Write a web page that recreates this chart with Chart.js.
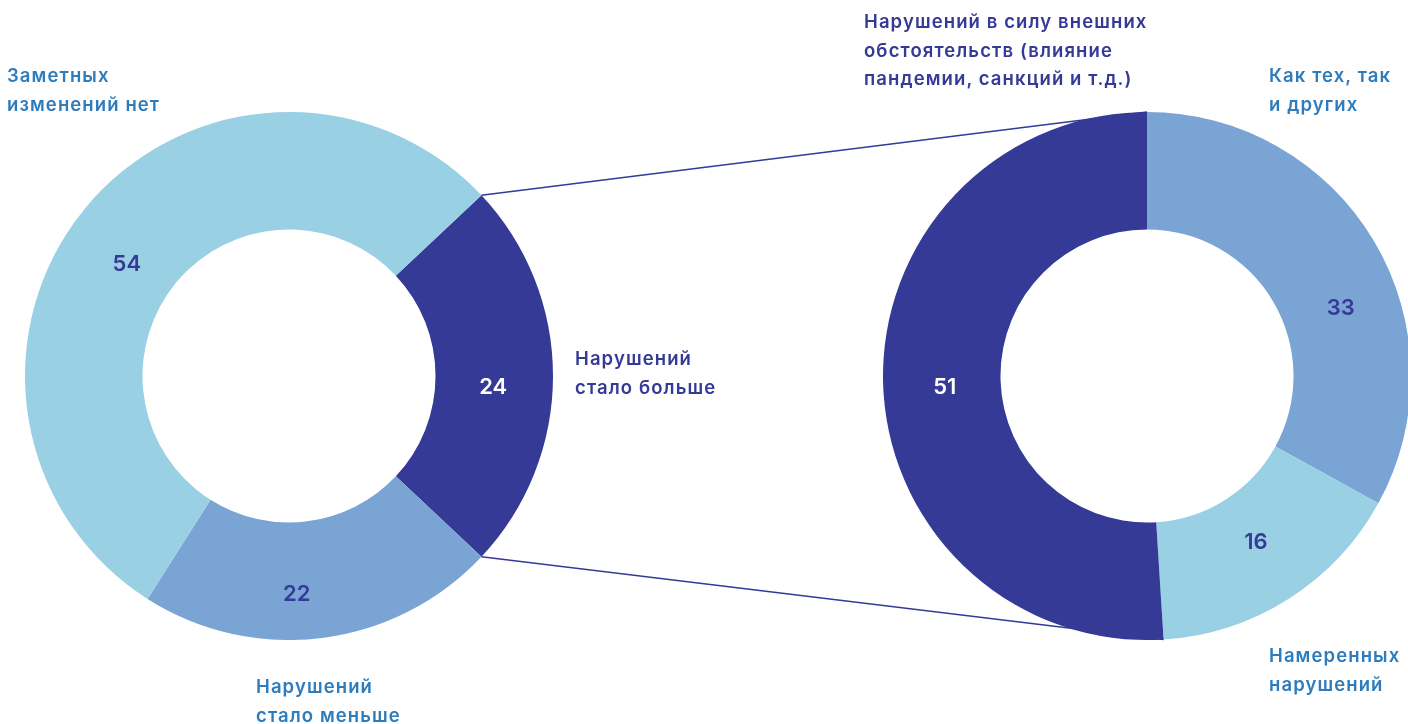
<!DOCTYPE html>
<html>
<head>
<meta charset="utf-8">
<script src="https://cdn.jsdelivr.net/npm/chart.js@4.4.0/dist/chart.umd.min.js"></script>
<style>
  html, body { margin: 0; padding: 0; background: #fff; overflow: hidden; }
  #wrap { position: relative; width: 1408px; height: 724px; }
  #wrap canvas { position: absolute; }
  #links { left: 0; top: 0; z-index: 0; }
  #leftChart { left: 25px; top: 112px; z-index: 1; }
  #rightChart { left: 883px; top: 112px; z-index: 1; }
  .cap {
    position: absolute; font-family: Inter, sans-serif; font-weight: 600;
    font-size: 18.5px; line-height: 28.5px; letter-spacing: 1.1px;
    white-space: nowrap; z-index: 2;
  }
  .navy { color: #343a96; }
  .blue { color: #2f7cbd; }
</style>
</head>
<body>
<div id="wrap">
  <canvas id="links" width="1408" height="724"></canvas>
  <canvas id="leftChart" width="528" height="528"></canvas>
  <canvas id="rightChart" width="528" height="528"></canvas>
</div>
<script>
// overall answers
var leftLabels = ["Нарушений стало больше", "Нарушений стало меньше", "Заметных изменений нет"];
var leftValues = [24, 22, 54];

// breakdown of "стало больше"
var rightLabels = ["Как тех, так и других", "Намеренных нарушений", "Нарушений в силу внешних обстоятельств (влияние пандемии, санкций и т.д.)"];
var rightValues = [33, 16, 51];

var NAVY = "#343a96", MID = "#79a4d4", LIGHT = "#9ad0e3";

// caption blocks: [lines, class, left, top]
var captions = [
    [["Заметных", "изменений нет"], "blue", 7, 61],
    [["Нарушений", "стало больше"], "navy", 575, 344],
    [["Нарушений", "стало меньше"], "blue", 256, 672],
    [["Нарушений в силу внешних", "обстоятельств (влияние", "пандемии, санкций и т.д.)"], "navy", 864, 7],
    [["Как тех, так", "и других"], "blue", 1269, 61],
    [["Намеренных", "нарушений"], "blue", 1269, 641]
];

var wrap = document.getElementById("wrap");
captions.forEach(function(c){
    var d = document.createElement("div");
    d.className = "cap " + c[1];
    d.style.left = c[2] + "px";
    d.style.top = c[3] + "px";
    d.innerHTML = c[0].join("<br>");
    wrap.appendChild(d);
});

//value labels near the middle of each slice, nudged a little
function sliceValues(shift) {
    return {
        id: "sliceValues",
        afterDatasetsDraw: function(chart) {
            var ctx = chart.ctx;
            var ds = chart.data.datasets[0];
            chart.getDatasetMeta(0).data.forEach(function(arc, i){
                var p = arc.tooltipPosition();
                ctx.save();
                ctx.font = "600 22px Inter, sans-serif";
                ctx.textAlign = "center";
                ctx.textBaseline = "middle";
                ctx.fillStyle = ds.backgroundColor[i] === NAVY ? "#ffffff" : NAVY;
                ctx.fillText(ds.data[i], p.x + shift[i][0], p.y + shift[i][1]);
                ctx.restore();
            });
        }
    };
}

function makeDoughnut(id, labels, values, colors, rotation, shift) {
    return new Chart(document.getElementById(id), {
        type: "doughnut",
        data: {
            labels: labels,
            datasets: [{
                data: values,
                backgroundColor: colors,
                borderWidth: 0
            }]
        },
        options: {
            responsive: false,
            animation: false,
            cutout: "55.5%",
            rotation: rotation,
            layout: { padding: 0 },
            plugins: {
                legend: { display: false },
                tooltip: { enabled: false }
            }
        },
        plugins: [sliceValues(shift)]
    });
}

// left: "стало больше" centred on the right side
var leftChart = makeDoughnut("leftChart", leftLabels, leftValues, [NAVY, MID, LIGHT],
    90 - leftValues[0] * 1.8, [[-1, 11], [-18, 15], [-4, 19]]);
var rightChart = makeDoughnut("rightChart", rightLabels, rightValues, [MID, LIGHT, NAVY],
    0, [[17, 37], [-1, -7], [3, 5]]);

//connector lines from the "больше" slice to the breakdown slice
function arcEnds(chart, idx, offX, offY) {
    var a = chart.getDatasetMeta(0).data[idx];
    var r = a.outerRadius;
    return [
        [offX + a.x + r * Math.cos(a.startAngle), offY + a.y + r * Math.sin(a.startAngle)],
        [offX + a.x + r * Math.cos(a.endAngle), offY + a.y + r * Math.sin(a.endAngle)]
    ];
}

var le = arcEnds(leftChart, 0, 25, 112);
var re = arcEnds(rightChart, 2, 883, 112);
var lctx = document.getElementById("links").getContext("2d");
lctx.strokeStyle = NAVY;
lctx.lineWidth = 1.5;
lctx.beginPath();
lctx.moveTo(le[0][0], le[0][1]);
lctx.lineTo(re[1][0], re[1][1]);
lctx.moveTo(le[1][0], le[1][1]);
lctx.lineTo(re[0][0], re[0][1]);
lctx.stroke();
</script>
</body>
</html>
